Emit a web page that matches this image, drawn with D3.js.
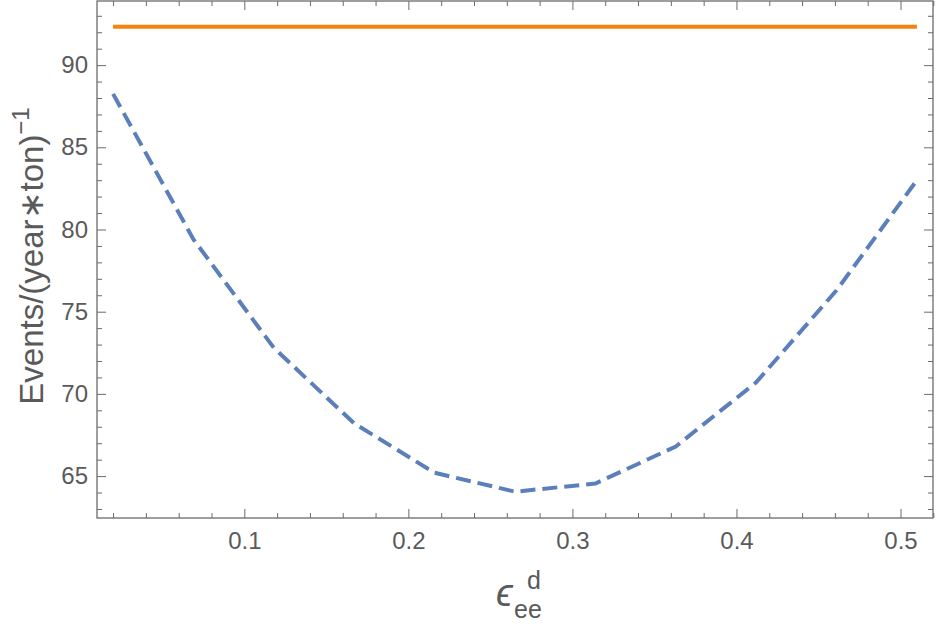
<!DOCTYPE html>
<html>
<head>
<meta charset="utf-8">
<script src="https://cdn.jsdelivr.net/npm/d3@7"></script>
<style>
  html, body { margin: 0; padding: 0; background: #fff; }
  svg { display: block; }
</style>
</head>
<body>
<svg id="chart" width="938" height="625"></svg>
<script>
// ---- data ----
const epsValues = [0.02, 0.069, 0.118, 0.167, 0.216, 0.265, 0.314, 0.363, 0.412, 0.461, 0.51];
const eventsDashed = [88.25, 79.4, 72.8, 68.2, 65.2, 64.05, 64.55, 66.8, 70.7, 76.3, 83.0];
const eventsConstant = [92.33, 92.33, 92.33, 92.33, 92.33, 92.33, 92.33, 92.33, 92.33, 92.33, 92.33];
const xTickValues = [0.1, 0.2, 0.3, 0.4, 0.5];
const xTickLabels = ["0.1", "0.2", "0.3", "0.4", "0.5"];
const yTickValues = [65, 70, 75, 80, 85, 90];
const yTickLabels = ["65", "70", "75", "80", "85", "90"];

// ---- layout ----
const L = 97, R = 933, T = 1, B = 518;
const svg = d3.select("#chart");
const x = d3.scaleLinear().domain([0.0102, 0.5198]).range([L, R]);
const y = d3.scaleLinear().domain([62.45, 93.9]).range([B, T]);

const frameColor = "#6b6b6b";
const textColor = "#5a5a5a";
const font = "'Liberation Sans', Arial, sans-serif";

// minor ticks
const xMinor = d3.range(0.02, 0.5201, 0.02).filter(v => !xTickValues.some(t => Math.abs(t - v) < 1e-6));
const yMinor = d3.range(63, 94, 1).filter(v => !yTickValues.includes(v));

function tickAxis(axisGen, transform, cls) {
  const g = svg.append("g").attr("class", cls).attr("transform", transform).call(axisGen);
  g.select(".domain").remove();
  g.selectAll("line").attr("stroke", frameColor).attr("stroke-width", 1);
  g.selectAll("text").attr("fill", textColor).style("font-family", font).style("font-size", "24px");
  return g;
}

// bottom
tickAxis(d3.axisBottom(x).tickValues(xTickValues).tickFormat((d, i) => xTickLabels[i]).tickSizeInner(-9).tickPadding(14), `translate(0,${B})`, "xb");
tickAxis(d3.axisBottom(x).tickValues(xMinor).tickFormat("").tickSizeInner(-5), `translate(0,${B})`, "xbm");
// top
tickAxis(d3.axisTop(x).tickValues(xTickValues).tickFormat("").tickSizeInner(-9), `translate(0,${T})`, "xt");
tickAxis(d3.axisTop(x).tickValues(xMinor).tickFormat("").tickSizeInner(-5), `translate(0,${T})`, "xtm");
// left
tickAxis(d3.axisLeft(y).tickValues(yTickValues).tickFormat((d, i) => yTickLabels[i]).tickSizeInner(-9).tickPadding(9), `translate(${L},0)`, "yl");
tickAxis(d3.axisLeft(y).tickValues(yMinor).tickFormat("").tickSizeInner(-5), `translate(${L},0)`, "ylm");
// right
tickAxis(d3.axisRight(y).tickValues(yTickValues).tickFormat("").tickSizeInner(-9), `translate(${R},0)`, "yr");
tickAxis(d3.axisRight(y).tickValues(yMinor).tickFormat("").tickSizeInner(-5), `translate(${R},0)`, "yrm");

// frame
svg.append("rect").attr("x", L).attr("y", T).attr("width", R - L).attr("height", B - T)
  .attr("fill", "none").attr("stroke", frameColor).attr("stroke-width", 1.3);

// lines
const line = d3.line().x(d => x(d[0])).y(d => y(d[1]));
svg.append("path").datum(epsValues.map((v, i) => [v, eventsConstant[i]]))
  .attr("d", line).attr("fill", "none").attr("stroke", "#f7820f").attr("stroke-width", 4);
svg.append("path").datum(epsValues.map((v, i) => [v, eventsDashed[i]]))
  .attr("d", line).attr("fill", "none").attr("stroke", "#5b7fba").attr("stroke-width", 4)
  .attr("stroke-dasharray", "15,7");

// y label
const yl = svg.append("text").attr("transform", "translate(43,256) rotate(-90)")
  .attr("text-anchor", "middle").attr("fill", textColor)
  .style("font-family", font).style("font-size", "33px");
yl.append("tspan").text("Events/(year\u2217ton)");
yl.append("tspan").attr("dy", -14).style("font-size", "24px").text("\u22121");

// x label
const xl = svg.append("g").attr("transform", "translate(496,606)");
xl.append("text").attr("x", 0).attr("y", 0).attr("fill", textColor)
  .style("font-family", font).style("font-size", "38px").style("font-style", "italic").text("\u03f5");
xl.append("text").attr("x", 18).attr("y", 12).attr("fill", textColor)
  .style("font-family", font).style("font-size", "25px").text("ee");
xl.append("text").attr("x", 31).attr("y", -17).attr("fill", textColor)
  .style("font-family", font).style("font-size", "25px").text("d");
</script>
</body>
</html>
